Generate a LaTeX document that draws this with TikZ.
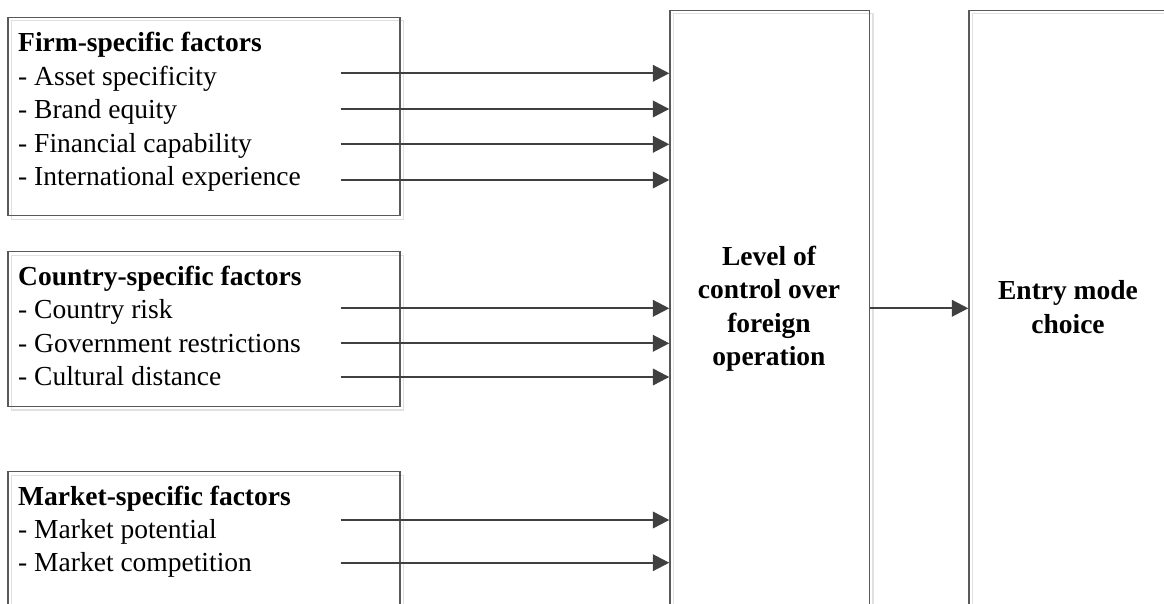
\documentclass[tikz,border=0pt]{standalone}
\usepackage{fontspec}
\setmainfont{Liberation Serif}
\usetikzlibrary{arrows.meta,shadows}
\begin{document}
\begin{tikzpicture}[x=1pt,y=-1pt,
  box/.style={rectangle, draw=black!65, line width=1.3pt, anchor=north west, inner sep=0pt,
    general shadow={shadow xshift=3.5pt, shadow yshift=-3.5pt, draw=black!12, line width=1.3pt, fill=none, opacity=1}},
  lbl/.style={anchor=base west, inner sep=0pt, font=\fontsize{27.5}{33.5}\selectfont},
  ttl/.style={lbl, font=\fontsize{27.5}{33.5}\selectfont\bfseries},
  ctr/.style={anchor=base, inner sep=0pt, font=\fontsize{27.5}{33.5}\selectfont\bfseries},
  arr/.style={draw=black!75, line width=2.3pt, -{Triangle[length=16.5pt,width=16.5pt]}}]
\useasboundingbox (0,0) rectangle (1164,604);
\clip (0,0) rectangle (1164,604);

% boxes
\node[box, minimum width=392pt, minimum height=198.3pt] (firm) at (7.3,16.7) {};
\node[box, minimum width=392pt, minimum height=154.7pt] (country) at (7.3,251) {};
\node[box, minimum width=392pt, minimum height=200pt] (market) at (7.3,471) {};
\node[box, minimum width=199.4pt, minimum height=700pt] (mid) at (669.3,9.7) {};
\node[box, minimum width=200pt, minimum height=700pt] (right) at (968.3,9.7) {};

% firm texts
\node[ttl] (f0) at (18,51.7) {Firm-specific factors};
\node[lbl] (f1) at (18,85.2) {- Asset specificity};
\node[lbl] (f2) at (18,118.7) {- Brand equity};
\node[lbl] (f3) at (18,152.2) {- Financial capability};
\node[lbl] (f4) at (18,185.7) {- International experience};

% country texts
\node[ttl] (c0) at (18,285) {Country-specific factors};
\node[lbl] (c1) at (18,318.5) {- Country risk};
\node[lbl] (c2) at (18,352) {- Government restrictions};
\node[lbl] (c3) at (18,385.5) {- Cultural distance};

% market texts
\node[ttl] (m0) at (18,505) {Market-specific factors};
\node[lbl] (m1) at (18,538.3) {- Market potential};
\node[lbl] (m2) at (18,571.7) {- Market competition};

% middle texts
\node[ctr] (l1) at (769,265) {Level of};
\node[ctr] (l2) at (769,298.5) {control over};
\node[ctr] (l3) at (769,332) {foreign};
\node[ctr] (l4) at (769,365.5) {operation};

% right texts
\node[ctr] (e1) at (1068,299.5) {Entry mode};
\node[ctr] (e2) at (1068,333) {choice};

% arrow start points
\coordinate (a1) at (340.7,73.3);
\coordinate (a2) at (340.7,109);
\coordinate (a3) at (340.7,144.3);
\coordinate (a4) at (340.7,180);
\coordinate (b1) at (340.7,308.3);
\coordinate (b2) at (340.7,343.3);
\coordinate (b3) at (340.7,377);
\coordinate (d1) at (340.7,520);
\coordinate (d2) at (340.7,562.7);
\coordinate (mr) at (0,308.3);

\foreach \p in {a1,a2,a3,a4,b1,b2,b3,d1,d2}
  \draw[arr] (\p) -- (\p -| mid.west);
\draw[arr] (mid.east |- mr) -- (right.west |- mr);
\end{tikzpicture}
\end{document}
